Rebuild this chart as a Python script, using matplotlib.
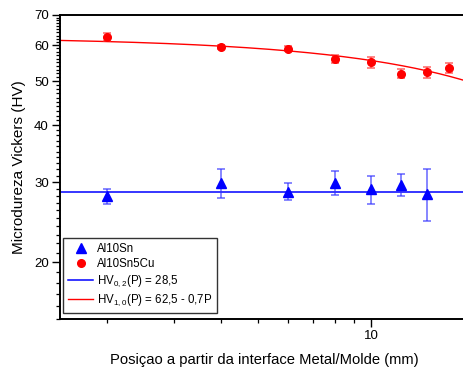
"""Microdureza Vickers vs posicao (Al10Sn / Al10Sn5Cu), log-log."""

import numpy as np
import matplotlib

matplotlib.use("Agg")
import matplotlib.pyplot as plt
from matplotlib.lines import Line2D
from matplotlib.ticker import FixedLocator, FuncFormatter, LogLocator, NullFormatter

plt.rcParams["font.family"] = ["Liberation Sans", "DejaVu Sans"]
plt.rcParams["mathtext.default"] = "regular"

# Al10Sn (blue triangles)
pos_sn = [2, 4, 6, 8, 10, 12, 14]
hv_sn = [27.9, 29.9, 28.6, 29.9, 28.9, 29.6, 28.3]
err_sn = [1.1, 2.2, 1.2, 1.8, 2.0, 1.7, 3.7]

# Al10Sn5Cu (red circles)
pos_cu = [2, 4, 6, 8, 10, 12, 14, 16]
hv_cu = [62.6, 59.4, 58.9, 55.9, 55.0, 51.9, 52.3, 53.4]
err_cu = [1.2, 0.5, 0.7, 1.1, 1.5, 1.2, 1.5, 1.3]

# fitted laws shown in the legend
fit_sn = 28.5
fit_cu_a = 62.5
fit_cu_b = 0.7

label_sn = "Al10Sn"
label_cu = "Al10Sn5Cu"
label_fit_sn = r"HV$_{0,2}$(P) = 28,5"
label_fit_cu = r"HV$_{1,0}$(P) = 62,5 - 0,7P"

y_major = [20, 30, 40, 50, 60, 70]
xlim = (1.5, 18.0)
ylim = (15.0, 70.0)

fig = plt.figure(figsize=(4.64, 3.71), dpi=100)
ax = fig.add_axes([60 / 464, 1 - 319 / 371, 408 / 464, (319 - 14.7) / 371])
ax.set_xscale("log")
ax.set_yscale("log")

p = np.geomspace(xlim[0], xlim[1], 200)
ax.plot(p, np.full_like(p, fit_sn), color="#0000ff", lw=1.1, zorder=2)
ax.plot(p, fit_cu_a - fit_cu_b * p, color="#ff0000", lw=1.0, zorder=2)

ax.errorbar(pos_sn, hv_sn, yerr=err_sn, fmt="^", color="#0000ff", ms=6.5,
            ecolor=(0.2, 0.2, 1.0, 0.75), elinewidth=1.1, capsize=3, capthick=1.1, zorder=3)
ax.errorbar(pos_cu, hv_cu, yerr=err_cu, fmt="o", color="#ff0000", ms=5.5,
            ecolor=(1.0, 0.2, 0.2, 0.75), elinewidth=1.1, capsize=3, capthick=1.1, zorder=3)

ax.set_xlim(*xlim)
ax.set_ylim(*ylim)

ax.xaxis.set_major_locator(LogLocator(base=10))
ax.xaxis.set_minor_locator(LogLocator(base=10, subs=np.arange(2, 10)))
ax.xaxis.set_major_formatter(FuncFormatter(lambda v, _: f"{v:g}"))
ax.xaxis.set_minor_formatter(NullFormatter())

ax.yaxis.set_major_locator(FixedLocator(y_major))
ax.yaxis.set_minor_locator(FixedLocator([v for v in range(15, 71) if v not in y_major]))
ax.yaxis.set_major_formatter(FuncFormatter(lambda v, _: f"{v:g}"))
ax.yaxis.set_minor_formatter(NullFormatter())

ax.tick_params(which="major", length=6, width=1.0, labelsize=9.5, pad=2)
ax.tick_params(which="minor", length=3, width=0.9)
for s in ax.spines.values():
    s.set_linewidth(1.4)

ax.set_ylabel("Microdureza Vickers (HV)", fontsize=11, labelpad=6)
ax.set_xlabel("Posiçao a partir da interface Metal/Molde (mm)", fontsize=10.6, labelpad=8)

handles = [
    Line2D([], [], ls="none", marker="^", color="#0000ff", ms=6.5),
    Line2D([], [], ls="none", marker="o", color="#ff0000", ms=5.5),
    Line2D([], [], color="#0000ff", lw=1.1),
    Line2D([], [], color="#ff0000", lw=1.0),
]
leg = ax.legend(handles, [label_sn, label_cu, label_fit_sn, label_fit_cu],
                loc="lower left", bbox_to_anchor=(0.008, 0.02), fontsize=8.3,
                frameon=True, fancybox=False, edgecolor="#333333", framealpha=1,
                handlelength=2.2, handletextpad=0.3, borderpad=0.4, labelspacing=0.3,
                borderaxespad=0)
leg.get_frame().set_linewidth(1.0)

fig.savefig("out.png", dpi=100)
